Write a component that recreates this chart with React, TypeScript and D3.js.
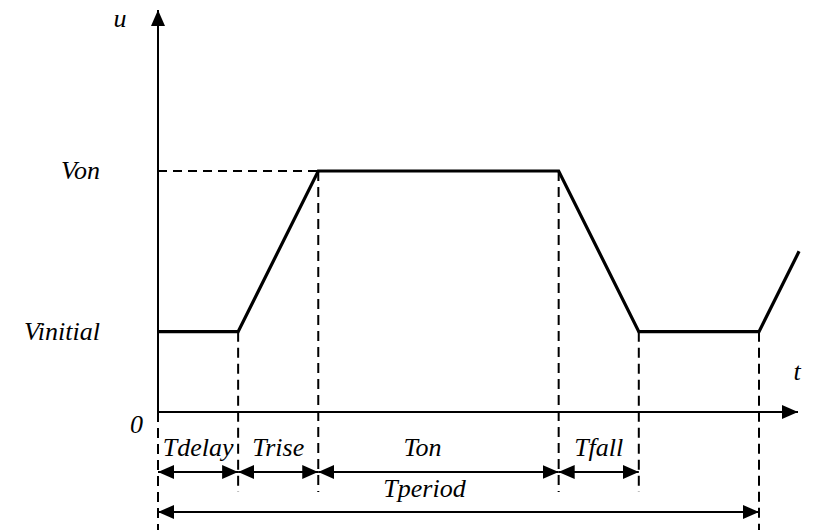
import React, { useEffect, useRef } from "react";
import * as d3 from "d3";

// waveform corner points (time units, volts in units of Vinitial)
const waveT = [0, 1, 2, 5, 6, 7.5, 8];
const waveV = [1, 1, 3, 3, 1, 1, 2];

// dimension segments under the time axis
const phaseNames = ["Tdelay", "Trise", "Ton", "Tfall"];
const phaseStart = [0, 1, 2, 5];
const phaseEnd = [1, 2, 5, 6];
const period = 7.5;

const levelNames = ["Vinitial", "Von"];
const levelValues = [1, 3];

const App = () => {
  const svgRef = useRef<SVGSVGElement>(null);

  useEffect(() => {
    const svg = d3.select(svgRef.current);
    svg.selectAll("*").remove();

    const width = 813;
    const height = 530;
    const x = d3.scaleLinear().domain([0, period]).range([158, 759]);
    const y = d3.scaleLinear().domain([0, 3]).range([412, 171]);
    const x0 = x(0);
    const y0 = y(0);
    const dimY = 472;
    const periodY = 512;

    svg.attr("width", width).attr("height", height);

    const defs = svg.append("defs");
    const marker = (id: string, orient: string) =>
      defs.append("marker")
        .attr("id", id)
        .attr("viewBox", "0 0 16 14")
        .attr("refX", 16)
        .attr("refY", 7)
        .attr("markerWidth", 16)
        .attr("markerHeight", 14)
        .attr("markerUnits", "userSpaceOnUse")
        .attr("orient", orient)
        .append("path")
        .attr("d", "M0,0 L16,7 L0,14 Z")
        .attr("fill", "#000");
    marker("arr", "auto");
    marker("arrStart", "auto-start-reverse");

    // axes
    svg.append("line")
      .attr("x1", x0).attr("y1", y0)
      .attr("x2", x0).attr("y2", 10)
      .attr("stroke", "#000").attr("stroke-width", 2)
      .attr("marker-end", "url(#arr)");
    svg.append("line")
      .attr("x1", x0).attr("y1", y0)
      .attr("x2", 798).attr("y2", y0)
      .attr("stroke", "#000").attr("stroke-width", 2)
      .attr("marker-end", "url(#arr)");

    // dashed guide for Von
    svg.append("line")
      .attr("x1", x0).attr("y1", y(3))
      .attr("x2", x(2)).attr("y2", y(3))
      .attr("stroke", "#000").attr("stroke-width", 2)
      .attr("stroke-dasharray", "9,6");

    // dashed verticals
    const guides = [
      { t: 0, v: 0, bottom: height },
      ...phaseEnd.map(t => ({ t, v: waveV[waveT.indexOf(t)], bottom: 492 })),
      { t: period, v: 1, bottom: height },
    ];
    svg.selectAll("line.guide")
      .data(guides)
      .enter()
      .append("line")
      .attr("class", "guide")
      .attr("x1", d => x(d.t)).attr("x2", d => x(d.t))
      .attr("y1", d => y(d.v)).attr("y2", d => d.bottom)
      .attr("stroke", "#000").attr("stroke-width", 2)
      .attr("stroke-dasharray", "10,6");

    // waveform
    const line = d3.line<number>()
      .x((d, i) => x(waveT[i]))
      .y(d => y(d));
    svg.append("path")
      .attr("d", line(waveV))
      .attr("fill", "none")
      .attr("stroke", "#000")
      .attr("stroke-width", 3.2)
      .attr("stroke-linejoin", "miter");

    // dimension arrows
    svg.selectAll("line.dim")
      .data(phaseNames)
      .enter()
      .append("line")
      .attr("class", "dim")
      .attr("x1", (d, i) => x(phaseStart[i]))
      .attr("x2", (d, i) => x(phaseEnd[i]))
      .attr("y1", dimY).attr("y2", dimY)
      .attr("stroke", "#000").attr("stroke-width", 2)
      .attr("marker-start", "url(#arrStart)")
      .attr("marker-end", "url(#arr)");

    svg.append("line")
      .attr("x1", x(0)).attr("x2", x(period))
      .attr("y1", periodY).attr("y2", periodY)
      .attr("stroke", "#000").attr("stroke-width", 2)
      .attr("marker-start", "url(#arrStart)")
      .attr("marker-end", "url(#arr)");

    const label = (tx: number, ty: number, s: string, anchor = "middle") =>
      svg.append("text")
        .attr("x", tx).attr("y", ty)
        .attr("text-anchor", anchor)
        .attr("font-family", "'Times New Roman', 'Liberation Serif', serif")
        .attr("font-style", "italic")
        .attr("font-size", 26)
        .text(s);

    phaseNames.forEach((p, i) => {
      const mid = (x(phaseStart[i]) + x(phaseEnd[i])) / 2;
      label(p === "Ton" ? mid - 16 : mid, 456, p);
    });
    label((x(0) + x(period)) / 2 - 34, 497, "Tperiod");

    levelNames.forEach((n, i) => {
      label(100, y(levelValues[i]) + 8, n, "end");
    });
    label(143, 433, "0", "end");
    label(120, 27, "u");
    label(797, 380, "t");
  }, []);

  return <svg ref={svgRef} style={{ position: "absolute", left: 0, top: 0 }} />;
};

export default App;
